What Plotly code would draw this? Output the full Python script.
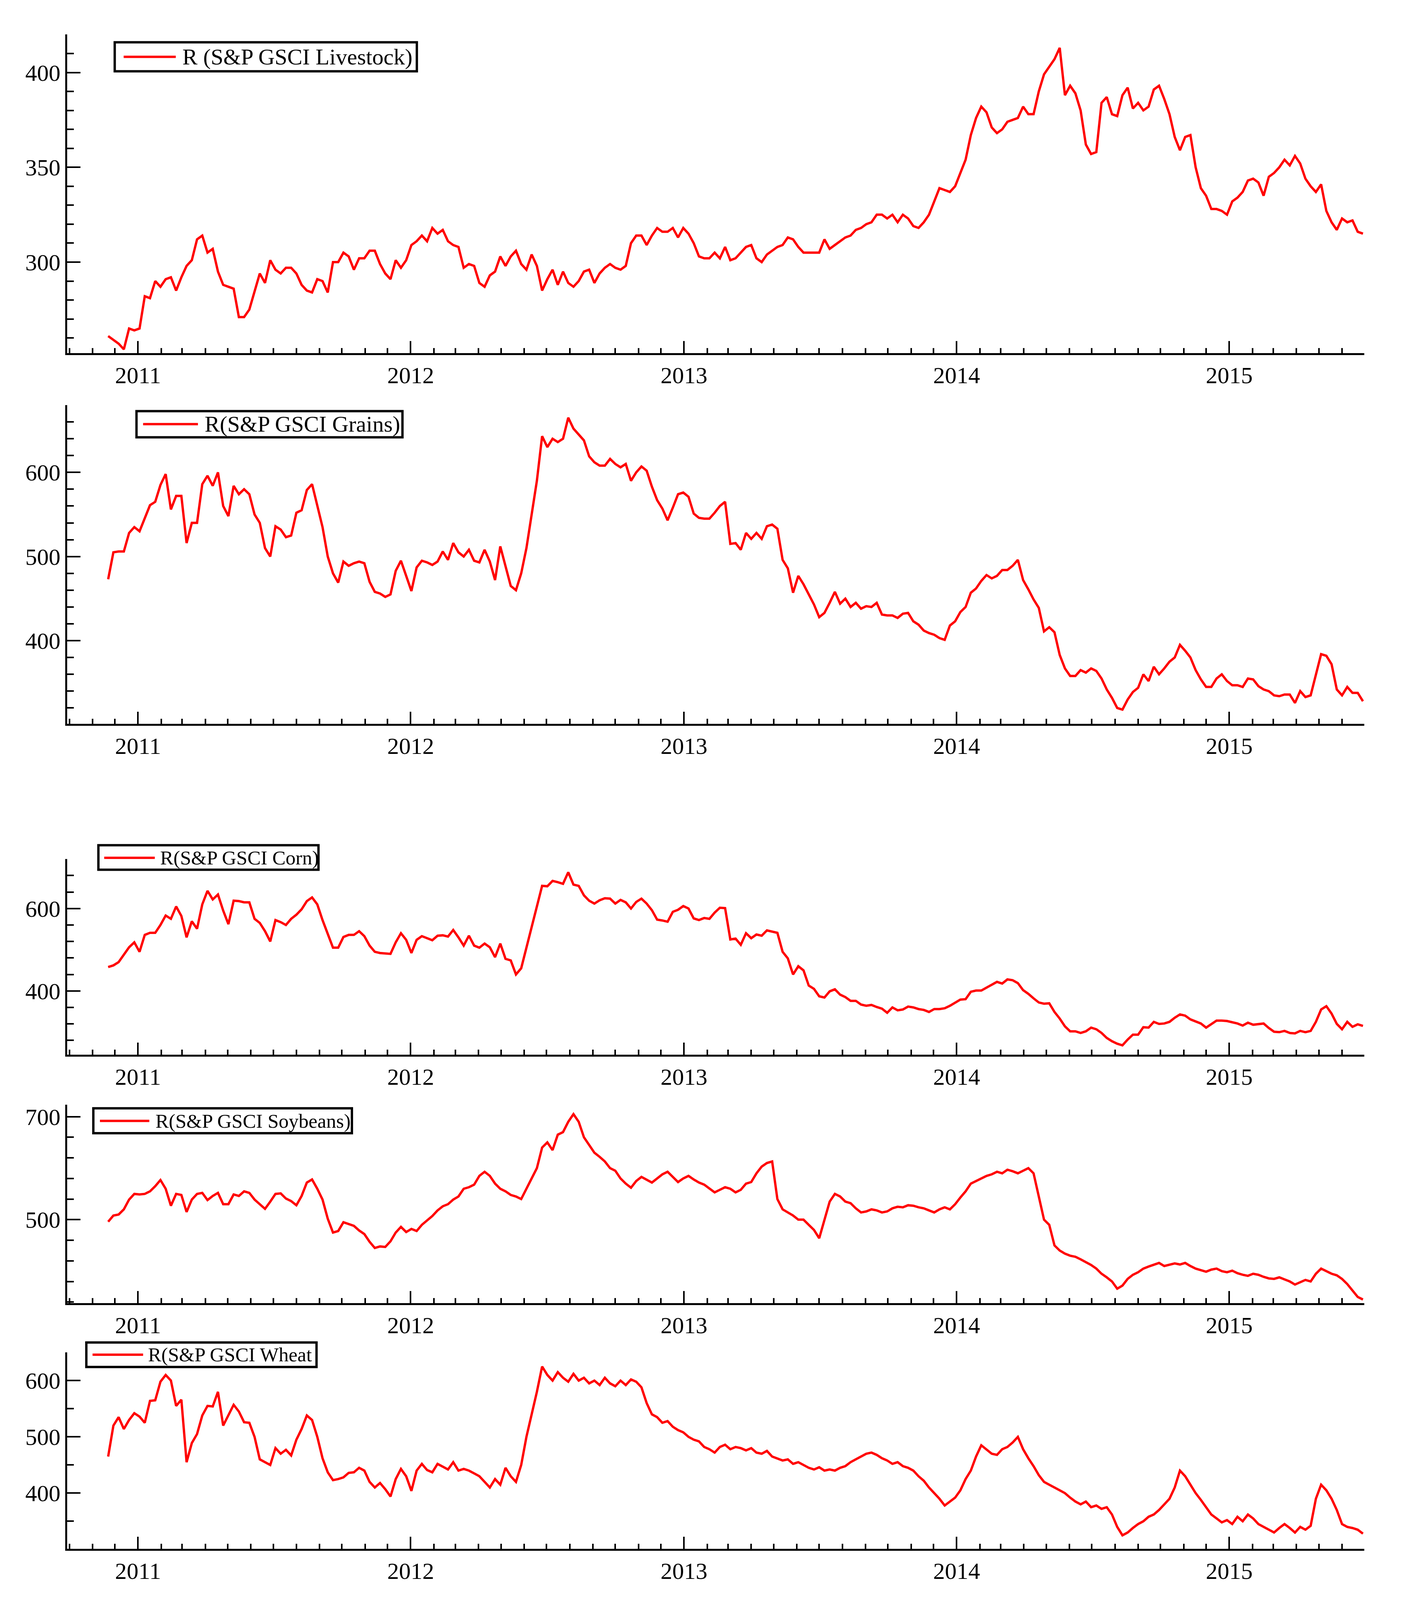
import pandas as pd
import plotly.graph_objects as go

W, H = 3587, 4940
start_date = "2010-11-22"  # first weekly observation

livestock = [
    261, 259, 257, 254, 265, 264, 265, 282, 281, 290,
    287, 291, 292, 285, 292, 298, 301, 312, 314, 305,
    307, 295, 288, 287, 286, 271, 271, 275, 284, 294,
    289, 301, 296, 294, 297, 297, 294, 288, 285, 284,
    291, 290, 284, 300, 300, 305, 303, 296, 302, 302,
    306, 306, 299, 294, 291, 301, 297, 301, 309, 311,
    314, 311, 318, 315, 317, 311, 309, 308, 297, 299,
    298, 289, 287, 293, 295, 303, 298, 303, 306, 299,
    296, 304, 298, 285, 291, 296, 288, 295, 289, 287,
    290, 295, 296, 289, 294, 297, 299, 297, 296, 298,
    310, 314, 314, 309, 314, 318, 316, 316, 318, 313,
    318, 315, 310, 303, 302, 302, 305, 302, 308, 301,
    302, 305, 308, 309, 302, 300, 304, 306, 308, 309,
    313, 312, 308, 305, 305, 305, 305, 312, 307, 309,
    311, 313, 314, 317, 318, 320, 321, 325, 325, 323,
    325, 321, 325, 323, 319, 318, 321, 325, 332, 339,
    338, 337, 340, 347, 354, 367, 376, 382, 379, 371,
    368, 370, 374, 375, 376, 382, 378, 378, 390, 399,
    403, 407, 413, 388, 393, 389, 380, 362, 357, 358,
    384, 387, 378, 377, 388, 392, 381, 384, 380, 382,
    391, 393, 386, 378, 366, 359, 366, 367, 350, 339,
    335, 328, 328, 327, 325, 332, 334, 337, 343, 344,
    342, 335, 345, 347, 350, 354, 351, 356, 352, 344,
    340, 337, 341, 327, 321, 317, 323, 321, 322, 316, 315,
]

grains = [
    473, 505, 506, 506, 528, 535, 530, 545, 561, 565,
    585, 598, 556, 572, 572, 516, 540, 540, 586, 596,
    584, 600, 560, 548, 584, 574, 580, 574, 550, 540,
    510, 500, 536, 532, 523, 525, 552, 555, 579, 586,
    560, 535, 500, 480, 469, 494, 489, 492, 494, 492,
    470, 458, 456, 452, 455, 483, 495, 476, 459, 487,
    495, 493, 490, 494, 506, 496, 516, 505, 500, 508,
    495, 493, 508, 494, 472, 512, 488, 465, 460, 480,
    510, 550, 590, 643, 630, 640, 636, 640, 665, 652,
    645, 638, 619, 612, 608, 608, 616, 610, 606, 610,
    590, 600, 607, 602, 583, 567, 557, 543, 558, 574,
    576, 571, 551, 546, 545, 545, 552, 560, 565, 515,
    516, 508, 528, 521, 528, 521, 536, 538, 533, 496,
    486, 457, 477, 467, 455, 443, 428, 433, 445, 458,
    444, 450, 440, 445, 438, 441, 440, 445, 431, 430,
    430, 427, 432, 433, 423, 419, 412, 409, 407, 403,
    401, 418, 423, 434, 440, 457, 462, 471, 478, 474,
    477, 484, 484, 489, 496, 472, 461, 449, 439, 411,
    416, 410, 383, 367, 358, 358, 365, 362, 367, 364,
    355, 342, 332, 320, 318, 330, 339, 344, 360, 352,
    369, 360, 367, 375, 380, 395, 388, 380, 365, 354,
    345, 345, 355, 360, 352, 347, 347, 345, 355, 354,
    346, 342, 340, 335, 334, 336, 336, 326, 340, 333,
    335, 360, 384, 382, 372, 342, 335, 345, 338, 338, 328,
]

corn = [
    458, 462, 470, 488, 506, 518, 495, 536, 541, 541,
    560, 583, 575, 605, 582, 530, 569, 551, 610, 643,
    622, 634, 595, 562, 619, 618, 615, 615, 575, 565,
    545, 520, 572, 567, 560, 575, 585, 598, 618, 627,
    610, 572, 538, 505, 505, 531, 536, 536, 545, 533,
    510, 495, 492, 491, 490, 518, 540, 524, 492, 524,
    533, 528, 523, 534, 535, 532, 548, 530, 510, 534,
    510, 505, 515, 506, 482, 515, 478, 474, 440, 455,
    505, 560, 606, 655, 654, 667, 664, 660, 688, 658,
    655, 632, 619, 612, 620, 625, 624, 612, 621, 615,
    600, 616, 624, 612, 596, 573, 571, 568, 592, 597,
    606, 600, 576, 572, 577, 575, 590, 602, 601, 525,
    527, 512, 540, 528, 537, 534, 547, 544, 541, 495,
    479, 440, 460, 450, 413, 405, 387, 384, 399, 404,
    391, 385, 376, 376, 367, 364, 366, 361, 357, 347,
    360, 353, 355, 362, 360, 356, 354, 349, 356, 356,
    358, 364, 371, 379, 380, 398, 401, 401, 408, 415,
    422, 418, 428, 426, 419, 402, 393, 382, 372, 369,
    370, 349, 333, 314, 302, 302, 298, 302, 311, 307,
    298, 286, 278, 272, 268, 282, 294, 294, 312, 311,
    325, 320, 321, 325, 335, 343, 340, 331, 326, 321,
    311, 319, 328, 328, 327, 324, 321, 316, 323, 318,
    319, 321, 310, 301, 300, 303, 298, 297, 303, 300,
    303, 325, 355, 363, 345, 320, 307, 325, 313, 319, 315,
]

soybeans = [
    496, 508, 510, 520, 539, 550, 549, 550, 555, 565,
    577, 560, 527, 550, 548, 515, 539, 550, 552, 538,
    546, 552, 530, 530, 549, 546, 555, 552, 539, 530,
    521, 535, 550, 551, 541, 536, 528, 546, 572, 578,
    560, 539, 502, 475, 478, 495, 491, 488, 479, 472,
    457, 445, 448, 447, 458, 475, 486, 476, 482, 478,
    490, 498, 507, 518, 526, 530, 539, 545, 560, 563,
    568, 585, 593, 585, 570, 560, 555, 548, 545, 540,
    560, 580, 600, 640, 650, 635, 665, 670, 690, 705,
    690, 660, 645, 630, 622, 613, 600, 595, 580, 570,
    562, 575, 583, 578, 572, 580, 588, 593, 583, 573,
    580, 585, 578, 572, 568, 560, 553, 558, 563, 560,
    553, 558, 570, 573, 590, 603, 610, 613, 540, 520,
    514, 508, 500, 500, 490, 480, 464, 500, 535, 550,
    545, 535, 532, 522, 514, 516, 520, 518, 514, 516,
    522, 525, 524, 528, 527, 524, 522, 518, 514, 520,
    524, 520, 530, 543, 555, 570, 575, 580, 585, 588,
    593, 590, 597, 594, 590, 595, 600, 590, 543, 500,
    490, 450, 440, 434, 430, 428, 423, 418, 412, 405,
    395, 388, 380, 366, 372, 385, 393, 398, 405, 409,
    412, 416, 410, 412, 415, 413, 416, 410, 405, 402,
    399, 403, 405, 400, 398, 401, 396, 393, 391, 395,
    393, 389, 386, 385, 388, 384, 380, 374, 379, 383,
    380, 395, 405, 400, 395, 392, 385, 375, 362, 350, 345,
]

wheat = [
    465, 520, 535, 514, 530, 542, 536, 525, 564, 565,
    598, 610, 600, 555, 566, 455, 489, 505, 538, 555,
    554, 580, 520, 538, 557, 545, 526, 525, 500, 460,
    455, 450, 480, 470, 477, 467, 495, 514, 538, 530,
    500, 462, 437, 423, 425, 428, 436, 437, 445, 440,
    420, 410, 418, 407, 394, 425, 443, 430, 404, 440,
    452, 441, 437, 452, 447, 442, 455, 440, 443, 440,
    435, 430, 420, 410, 425, 415, 445, 430, 420, 450,
    500, 540, 580, 625, 610, 600, 615, 605, 598, 612,
    600, 605, 595, 600, 592, 605, 595, 590, 600, 592,
    602, 598, 588, 560, 540, 535, 525, 528, 518, 512,
    508, 500, 495, 492, 482, 478, 472, 482, 486, 478,
    482, 480, 476, 480, 472, 470, 475, 465, 462, 458,
    460, 452, 455, 450, 445, 442, 446, 440, 442, 440,
    445, 448, 455, 460, 465, 470, 472, 468, 462, 458,
    452, 455, 448, 445, 440, 430, 422, 410, 400, 390,
    378, 385, 392, 405, 425, 440, 465, 485, 478, 470,
    468, 478, 482, 490, 500, 478, 462, 448, 432, 420,
    415, 410, 405, 400, 392, 385, 380, 385, 375, 378,
    372, 375, 362, 340, 325, 330, 338, 345, 350, 358,
    362, 370, 380, 390, 410, 440, 430, 415, 400, 388,
    375, 362, 355, 348, 352, 345, 358, 350, 362, 355,
    345, 340, 335, 330, 338, 345, 338, 330, 340, 335,
    342, 390, 415, 405, 390, 370, 345, 340, 338, 335, 328,
]

series_names = [
    "R (S&P GSCI Livestock)",
    "R(S&P GSCI Grains)",
    "R(S&P GSCI Corn)",
    "R(S&P GSCI Soybeans)",
    "R(S&P GSCI Wheat",
]
series_values = [livestock, grains, corn, soybeans, wheat]
year_range = ["2010-09-28", "2015-07-01"]

# layout (pixel geometry of each panel in a 3587x4940 frame, axis settings, legend boxes)
panels = [
    dict(top=95, bottom=1083, yr=[252, 420], dt=50, t0=0, mdt=10, mt0=0,
         box=(287, 119, 1064, 209), line=(310, 444), ly=164, tx=459, fs=58),
    dict(top=1244, bottom=2233, yr=[301, 680], dt=100, t0=0, mdt=20, mt0=0,
         box=(343, 1263, 1027, 1344), line=(360, 501), ly=1303, tx=516, fs=58),
    dict(top=2652, bottom=3259, yr=[245, 720], dt=200, t0=0, mdt=40, mt0=0,
         box=(245, 2609, 811, 2685), line=(260, 390), ly=2648, tx=402, fs=51),
    dict(top=3414, bottom=4029, yr=[338, 723], dt=200, t0=100, mdt=40, mt0=100,
         box=(232, 3425, 897, 3502), line=(249, 376), ly=3464, tx=390, fs=51),
    dict(top=4182, bottom=4791, yr=[301, 650], dt=100, t0=0, mdt=50, mt0=0,
         box=(214, 4151, 806, 4227), line=(230, 360), ly=4189, tx=371, fs=51),
]

X0, X1 = 164.5, 3501
FONT = "Liberation Serif"


def fx(px):
    return px / W


def fy(py):
    return 1 - py / H


fig = go.Figure()
shapes, annotations = [], []
layout_axes = {}
for i, (p, name, vals) in enumerate(zip(panels, series_names, series_values), start=1):
    dates = pd.date_range(start_date, periods=len(vals), freq="7D")
    fig.add_trace(go.Scatter(
        x=dates, y=vals, mode="lines", name=name, showlegend=False,
        line=dict(color="#FF0000", width=6),
        xaxis=f"x{i}", yaxis=f"y{i}",
    ))
    layout_axes[f"xaxis{i}"] = dict(
        domain=[fx(X0), fx(X1)], anchor=f"y{i}", type="date", range=year_range,
        tick0="2011-01-01", dtick="M12", tickformat="%Y",
        ticks="inside", ticklen=31, tickwidth=4, tickcolor="black",
        showline=True, linewidth=5, linecolor="black",
        showgrid=False, zeroline=False,
        tickfont=dict(family=FONT, size=60, color="black"),
        minor=dict(tick0="2011-01-01", dtick="M1", ticks="inside", ticklen=13,
                   tickwidth=4, tickcolor="black", showgrid=False),
    )
    layout_axes[f"yaxis{i}"] = dict(
        domain=[fy(p["bottom"]), fy(p["top"])], anchor=f"x{i}", range=p["yr"],
        tick0=p["t0"], dtick=p["dt"],
        ticks="inside", ticklen=34, tickwidth=4, tickcolor="black",
        showline=True, linewidth=5, linecolor="black",
        showgrid=False, zeroline=False,
        tickfont=dict(family=FONT, size=60, color="black"),
        minor=dict(tick0=p["mt0"], dtick=p["mdt"], ticks="inside", ticklen=17,
                   tickwidth=4, tickcolor="black", showgrid=False),
    )
    bx0, by0, bx1, by1 = p["box"]
    shapes.append(dict(type="rect", xref="paper", yref="paper",
                       x0=fx(bx0), x1=fx(bx1), y0=fy(by1), y1=fy(by0),
                       line=dict(color="black", width=6), fillcolor="white",
                       layer="above"))
    shapes.append(dict(type="line", xref="paper", yref="paper",
                       x0=fx(p["line"][0]), x1=fx(p["line"][1]),
                       y0=fy(p["ly"]), y1=fy(p["ly"]),
                       line=dict(color="#FF0000", width=6), layer="above"))
    annotations.append(dict(xref="paper", yref="paper", x=fx(p["tx"]), y=fy(p["ly"]),
                            xanchor="left", yanchor="middle", showarrow=False,
                            text=name, font=dict(family=FONT, size=p["fs"], color="black")))

fig.update_layout(
    autosize=True,
    margin=dict(l=0, r=0, t=0, b=0),
    paper_bgcolor="white", plot_bgcolor="white",
    showlegend=False,
    shapes=shapes, annotations=annotations,
    **layout_axes,
)

# the figure fills the browser window exactly (no page margin, no scrolling)
fig.write_html(
    "out.html",
    default_width="calc(100vw - 16px)",
    default_height="calc(100vh - 16px)",
    config={"responsive": True},
)
